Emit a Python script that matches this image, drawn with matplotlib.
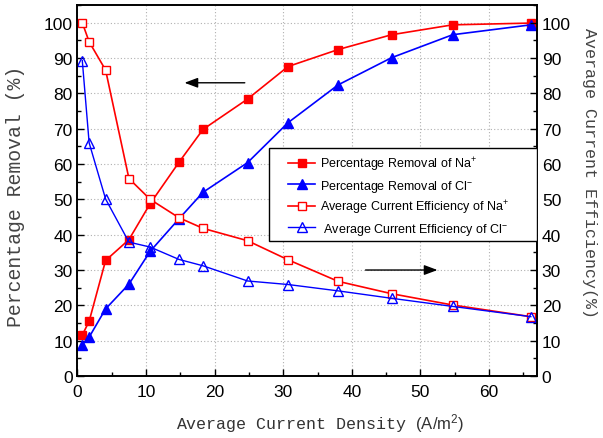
import matplotlib
matplotlib.use("Agg")
import matplotlib.pyplot as plt
from matplotlib.ticker import MultipleLocator
from matplotlib.patches import Rectangle

plt.rcParams['mathtext.fontset'] = 'custom'
plt.rcParams['mathtext.rm'] = 'Liberation Sans'
plt.rcParams['mathtext.it'] = 'Liberation Sans'
plt.rcParams['font.family'] = 'Liberation Sans'

density = [0.7, 1.7, 4.1, 7.5, 10.6, 14.8, 18.3, 24.8, 30.7, 38.0, 45.8, 54.7, 66.1]
removal_na = [11.6, 15.5, 32.7, 38.6, 48.8, 60.5, 69.8, 78.4, 87.6, 92.4, 96.6, 99.4, 99.9]
removal_cl = [8.9, 11.0, 19.0, 26.0, 35.3, 44.5, 52.0, 60.4, 71.7, 82.4, 90.1, 96.6, 99.4]
eff_na = [100.0, 94.6, 86.6, 55.9, 50.0, 44.8, 41.8, 38.3, 32.9, 26.8, 23.3, 20.1, 16.8]
eff_cl = [89.3, 66.0, 50.1, 37.9, 36.5, 33.0, 31.2, 26.9, 25.9, 24.1, 22.0, 19.7, 16.8]

labels = ["Percentage Removal of Na$^{+}$",
          "Percentage Removal of Cl$^{-}$",
          "Average Current Efficiency of Na$^{+}$",
          " Average Current Efficiency of Cl$^{-}$"]

fig = plt.figure(figsize=(6.03, 4.39), dpi=100)
ax = fig.add_axes([0.1285, 0.1412, 0.762, 0.845])
ax2 = ax.twinx()

red = '#ff0000'
blue = '#0000ff'
l1, = ax.plot(density, removal_na, '-s', color=red, ms=5.5, lw=1.2, mfc=red, mec=red, label=labels[0])
l2, = ax.plot(density, removal_cl, '-^', color=blue, ms=6.5, lw=1.2, mfc=blue, mec=blue, label=labels[1])
l3, = ax2.plot(density, eff_na, '-s', color=red, ms=6, lw=1.2, mfc='white', mec=red, mew=1.0, label=labels[2])
l4, = ax2.plot(density, eff_cl, '-^', color=blue, ms=7, lw=1.0, mfc='none', mec=blue, mew=1.0, label=labels[3])

for a in (ax, ax2):
    a.set_xlim(0, 67)
    a.set_ylim(0, 105)
    a.yaxis.set_major_locator(MultipleLocator(10))
    a.yaxis.set_minor_locator(MultipleLocator(5))
    a.tick_params(which='both', direction='in', labelsize=12.5, width=1)
    a.tick_params(which='major', length=5)
    a.tick_params(which='minor', length=3)

ax.xaxis.set_major_locator(MultipleLocator(10))
ax.xaxis.set_minor_locator(MultipleLocator(5))
ax.tick_params(axis='x', pad=6)
ax.grid(True, which='major', linestyle=(0, (1, 2)), color='#b0b0b0', lw=0.8)
for s in list(ax.spines.values()) + list(ax2.spines.values()):
    s.set_linewidth(1.2)

ax.set_ylabel("Percentage Removal (%)", family='Liberation Mono', fontsize=14.3, color='#444444')
ax.yaxis.set_label_coords(-0.114, 0.488)
ax2.set_ylabel("Average Current Efficiency(%)", family='Liberation Mono', fontsize=12,
               rotation=270, color='#444444', va='center')
ax2.yaxis.set_label_coords(1.115, 0.55)
ax.set_xlabel("Average Current Density $\\mathrm{(A/m^2)}$", family='Liberation Mono', fontsize=12,
              color='#333333')
ax.xaxis.set_label_coords(0.528, -0.095)

ax.annotate('', xy=(15.2, 83), xytext=(24.8, 83),
            arrowprops=dict(arrowstyle='-|>,head_length=0.8,head_width=0.3', color='black', lw=1))
ax.annotate('', xy=(52.9, 30), xytext=(41.6, 30),
            arrowprops=dict(arrowstyle='-|>,head_length=0.8,head_width=0.3', color='black', lw=1))

# legend frame (axes coords computed from pixel box 269..538 x 149..242)
x0 = (269 - 77.5) / 459.5
y0 = (377 - 242) / 371
w = (537 - 269) / 459.5
h = (242 - 149) / 371
ax2.add_patch(Rectangle((x0, y0), w, h, transform=ax2.transAxes, facecolor='white',
                        edgecolor='black', lw=1.0, zorder=5))
leg = ax2.legend(handles=[l1, l2, l3, l4], loc='upper left',
                 bbox_to_anchor=(x0 + 0.03, y0 + h - 0.006), borderaxespad=0,
                 fontsize=9, frameon=False, handlelength=2.2, handletextpad=0.4,
                 labelspacing=0.35)
leg.set_zorder(6)

fig.savefig("out.png", dpi=100)
